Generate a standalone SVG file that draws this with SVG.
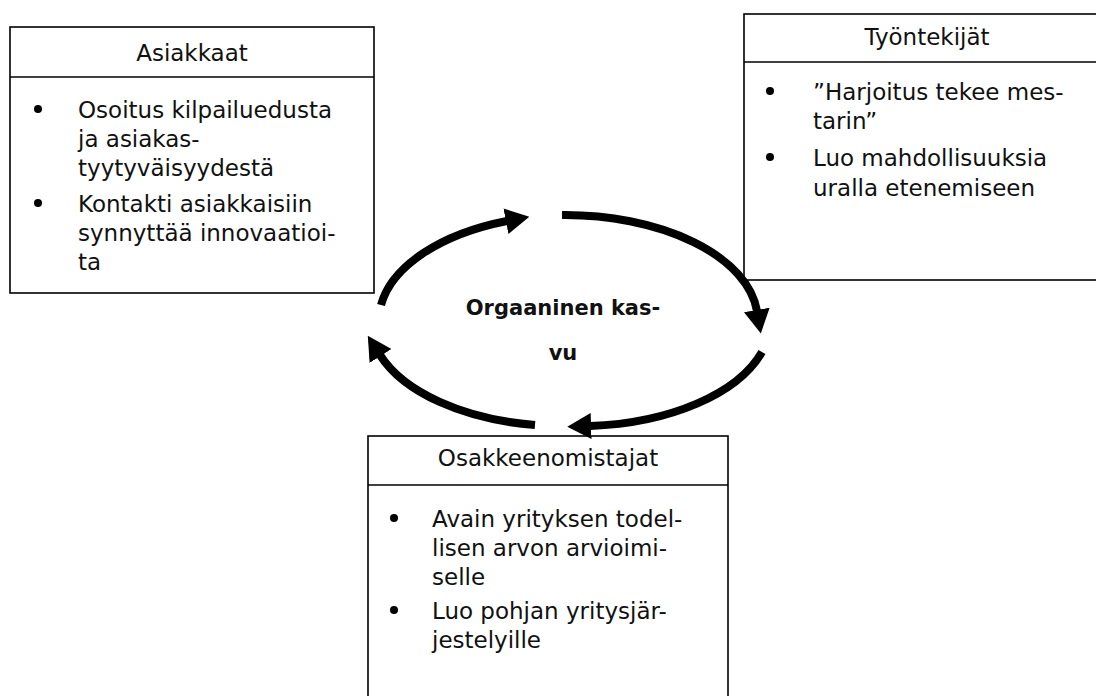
<svg xmlns="http://www.w3.org/2000/svg" width="1096" height="696" viewBox="0 0 1096 696">
  <style>
    .box { fill: #fff; stroke: #000; stroke-width: 1.6; }
    .div { stroke: #000; stroke-width: 1.6; }
    .t { font-family: "DejaVu Sans", Verdana, sans-serif; font-size: 23px; fill: #111; }
    .title { text-anchor: middle; }
    .center { font-family: "DejaVu Sans", Verdana, sans-serif; font-size: 21px; font-weight: bold; fill: #111; text-anchor: middle; }
    .arc { fill: none; stroke: #000; stroke-width: 8; marker-end: url(#ah); }
    .b { fill: #000; }
  </style>
  <defs>
    <marker id="ah" markerUnits="userSpaceOnUse" markerWidth="24" markerHeight="26" viewBox="0 0 22 24" refX="1" refY="12" orient="auto">
      <path d="M0,0 L22,12 L0,24 Z" fill="#000"/>
    </marker>
  </defs>
  <rect width="1096" height="696" fill="#fff"/>

  <g id="asiakkaat">
    <rect class="box" x="10" y="27" width="364" height="266"/>
    <line class="div" x1="10" y1="77" x2="374" y2="77"/>
    <text class="t title" x="192" y="61">Asiakkaat</text>
    <circle class="b" cx="38" cy="109" r="4"/>
    <text class="t" x="78" y="118">Osoitus kilpailuedusta</text>
    <text class="t" x="78" y="147">ja asiakas-</text>
    <text class="t" x="78" y="176">tyytyväisyydestä</text>
    <circle class="b" cx="38" cy="203" r="4"/>
    <text class="t" x="78" y="212">Kontakti asiakkaisiin</text>
    <text class="t" x="78" y="241">synnyttää innovaatioi-</text>
    <text class="t" x="78" y="270">ta</text>
  </g>

  <g id="tyontekijat">
    <rect class="box" x="744" y="14" width="366" height="266"/>
    <line class="div" x1="744" y1="62" x2="1110" y2="62"/>
    <text class="t title" x="927" y="45">Työntekijät</text>
    <circle class="b" cx="770" cy="91" r="4"/>
    <text class="t" x="813" y="100">”Harjoitus tekee mes-</text>
    <text class="t" x="813" y="129">tarin”</text>
    <circle class="b" cx="770" cy="157" r="4"/>
    <text class="t" x="813" y="166">Luo mahdollisuuksia</text>
    <text class="t" x="813" y="196">uralla etenemiseen</text>
  </g>

  <g id="osakkeenomistajat">
    <rect class="box" x="368" y="436" width="360" height="270"/>
    <line class="div" x1="368" y1="485" x2="728" y2="485"/>
    <text class="t title" x="548" y="466">Osakkeenomistajat</text>
    <circle class="b" cx="394" cy="518" r="4"/>
    <text class="t" x="432" y="527">Avain yrityksen todel-</text>
    <text class="t" x="432" y="556">lisen arvon arvioimi-</text>
    <text class="t" x="432" y="585">selle</text>
    <circle class="b" cx="394" cy="610" r="4"/>
    <text class="t" x="432" y="619">Luo pohjan yritysjär-</text>
    <text class="t" x="432" y="648">jestelyille</text>
  </g>

  <g id="kasvu">
    <text class="center" x="563" y="315">Orgaaninen kas-</text>
    <text class="center" x="563" y="360">vu</text>
  </g>

  <g id="connectors">
    <path class="arc" d="M381,305 A193,106 0 0 1 507,221"/>
    <path class="arc" d="M562,215 A193,106 0 0 1 757,311"/>
    <path class="arc" d="M762,352 A193,106 0 0 1 590,426"/>
    <path class="arc" d="M535,425 A193,106 0 0 1 380,355"/>
  </g>
</svg>
